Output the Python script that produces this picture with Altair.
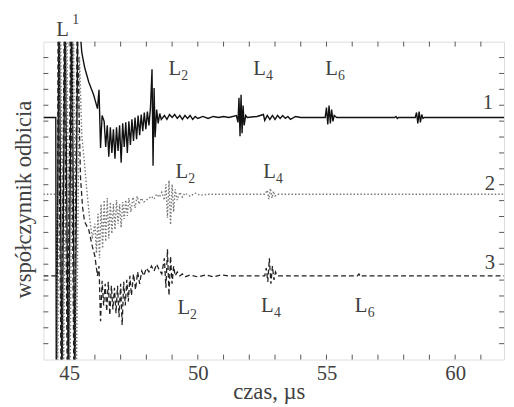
import altair as alt
import pandas as pd

# ---- trace 1 (solid) : time in µs, deviation from its baseline ----
t1 = [44.00, 44.48, 44.50, 44.61, 44.72, 44.84, 44.97, 45.10, 45.22, 45.34, 45.42, 45.49, 45.60, 45.76,
      45.95, 46.10, 46.16, 46.22, 46.28, 46.36, 46.42,
      46.48, 46.54, 46.60, 46.66, 46.72, 46.78, 46.84, 46.90, 46.96, 47.02, 47.08, 47.14, 47.20, 47.26,
      47.32, 47.38, 47.44, 47.50, 47.56, 47.62, 47.68, 47.74, 47.80, 47.86, 47.92, 47.98, 48.04, 48.10,
      48.16, 48.22, 48.26, 48.30, 48.34, 48.40, 48.46, 48.52, 48.58, 48.70, 48.80, 48.90, 49.00, 49.10,
      49.20, 49.30, 49.40, 49.50, 49.60, 49.70, 49.80, 49.90, 50.00, 50.20, 50.40, 50.60, 50.80, 51.00,
      51.20, 51.50, 51.56, 51.60, 51.64, 51.68, 51.72, 51.76, 51.80, 51.86, 51.92, 52.30, 52.55, 52.60,
      52.70, 52.80, 52.90, 53.00, 53.10, 53.20, 53.30, 53.40, 53.50, 53.60, 53.80, 54.00, 54.95, 55.00,
      55.05, 55.10, 55.15, 55.20, 55.25, 55.30, 55.40, 57.65, 57.70, 57.75, 57.80, 58.45, 58.50, 58.55,
      58.60, 58.65, 58.70, 58.75, 58.80, 61.90]
v1 = [0.00, 0.00, -2.8, 1.2, -2.8, 1.2, -2.8, 1.2, -2.8, 1.2, 0.90, 0.66, 0.51, 0.36,
      0.23, 0.09, 0.28, -0.31, 0.02, -0.04, -0.30,
      -0.08, -0.40, -0.10, -0.36, -0.12, -0.42, -0.10, -0.34, -0.08, -0.46, -0.06, -0.30, -0.05, -0.36,
      -0.04, -0.28, -0.02, -0.24, 0.00, -0.22, 0.02, -0.18, 0.03, -0.14, 0.05, -0.12, 0.06, -0.08,
      0.10, 0.49, -0.49, 0.30, -0.20, 0.08, -0.06, 0.04, -0.02, 0.02, -0.02, 0.03, 0.00, 0.03,
      -0.01, 0.02, -0.02, 0.02, -0.01, 0.02, -0.02, 0.01, -0.01, 0.01, -0.01, 0.01, 0.00, 0.01,
      0.00, 0.02, -0.05, 0.20, -0.19, 0.23, -0.16, 0.12, -0.08, 0.02, 0.00, 0.01, 0.03, -0.03,
      0.02, -0.02, 0.02, -0.02, 0.02, -0.01, 0.02, -0.01, 0.01, -0.02, 0.01, 0.00, 0.00, 0.10,
      -0.07, 0.12, -0.06, 0.08, -0.04, 0.02, 0.00, 0.00, 0.01, -0.01, 0.00, 0.00, 0.05, -0.06,
      0.06, -0.05, 0.03, -0.01, 0.00, 0.00]

# ---- trace 2 (dotted) ----
t2 = [44.00, 44.52, 44.55, 44.66, 44.78, 44.90, 45.03, 45.16, 45.28, 45.40,
      45.49, 45.60, 45.70, 45.80, 45.90, 46.00, 46.06, 46.12, 46.18, 46.24,
      46.30, 46.36, 46.42, 46.48, 46.54, 46.60, 46.66, 46.72, 46.78, 46.84, 46.90, 46.96, 47.02, 47.08,
      47.14, 47.20, 47.26, 47.32, 47.40, 47.48, 47.56, 47.64, 47.72, 47.80, 47.90, 48.00, 48.10, 48.20,
      48.30, 48.40, 48.50, 48.60, 48.70, 48.76, 48.82, 48.88, 48.94, 49.00, 49.06, 49.12, 49.20, 49.30,
      49.40, 49.50, 49.70, 49.90, 50.10, 50.40, 52.60, 52.70, 52.76, 52.82, 52.88, 52.94, 53.00, 53.10,
      61.90]
v2 = [0.00, 0.00, -2.0, 2.0, -2.0, 2.0, -2.0, 2.0, -2.0, 1.4,
      0.60, 0.30, 0.00, -0.25, -0.45, -0.30, -0.60, -0.20, -0.65, -0.10,
      -0.55, -0.06, -0.48, -0.04, -0.45, -0.08, -0.40, -0.10, -0.36, -0.06, -0.30, -0.10, -0.34, -0.08,
      -0.25, -0.06, -0.22, -0.04, -0.18, -0.03, -0.14, -0.02, -0.10, -0.04, -0.08, -0.06, -0.04, -0.02,
      -0.05, 0.00, -0.03, 0.02, -0.06, 0.10, -0.24, 0.14, -0.31, 0.10, -0.18, 0.05, -0.06, 0.02,
      -0.03, 0.01, -0.02, 0.01, -0.01, 0.00, 0.00, 0.04, -0.05, 0.06, -0.04, 0.03, -0.02, 0.00,
      0.00]

# ---- trace 3 (dashed) ----
t3 = [44.00, 44.54, 44.57, 44.69, 44.81, 44.93, 45.06, 45.19, 45.31, 45.44,
      45.52, 45.60, 45.76, 45.90, 46.00, 46.10, 46.16, 46.22, 46.28,
      46.34, 46.40, 46.46, 46.52, 46.58, 46.64, 46.70, 46.76, 46.82, 46.88, 46.94, 47.00, 47.06, 47.12,
      47.18, 47.24, 47.30, 47.36, 47.42, 47.50, 47.58, 47.66, 47.74, 47.82, 47.90, 48.00, 48.10, 48.20,
      48.30, 48.40, 48.50, 48.60, 48.70, 48.76, 48.82, 48.88, 48.94, 49.00, 49.06, 49.12, 49.20, 49.30,
      49.40, 49.50, 49.70, 50.00, 50.30, 50.60, 50.90, 51.20, 52.60, 52.66, 52.72, 52.78, 52.84, 52.90,
      52.96, 53.02, 53.10, 56.20, 56.26, 56.32, 56.40, 61.90]
v3 = [0.00, 0.00, 2.6, -1.2, 2.6, -1.2, 2.6, -1.2, 2.6, 1.0,
      0.70, 0.55, 0.47, 0.30, 0.20, 0.00, 0.10, -0.46, -0.05,
      -0.30, -0.08, -0.36, -0.06, -0.40, -0.10, -0.34, -0.12, -0.38, -0.10, -0.42, -0.08, -0.50, -0.06,
      -0.30, -0.04, -0.26, 0.00, -0.20, 0.02, -0.14, 0.04, -0.08, 0.05, 0.00, 0.08, 0.04, 0.10,
      0.05, 0.12, 0.06, 0.02, 0.18, -0.12, 0.27, -0.20, 0.20, -0.08, 0.10, 0.00, 0.04, 0.00,
      0.02, -0.01, 0.01, -0.01, 0.01, -0.01, 0.01, 0.00, 0.00, 0.08, -0.06, 0.18, -0.08, 0.10,
      -0.04, 0.04, 0.00, 0.00, 0.02, -0.01, 0.00, 0.00]

baselines = [2.46, 1.68, 0.85]

# ---- annotations ----
lab_t = [44.50, 48.86, 52.15, 54.95, 49.13, 52.54, 49.21, 52.46, 56.10, 61.07, 61.15, 61.15]
lab_y = [3.29, 2.89, 2.89, 2.89, 1.84, 1.84, 0.46, 0.48, 0.48, 2.55, 1.72, 0.92]
lab_text = ["L", "L", "L", "L", "L", "L", "L", "L", "L", "1", "2", "3"]
idx_t = [45.12, 49.36, 52.65, 55.45, 49.63, 53.04, 49.70, 52.96, 56.60]
idx_y = [3.41, 2.84, 2.84, 2.84, 1.79, 1.79, 0.41, 0.43, 0.43]
idx_text = ["1", "2", "4", "6", "2", "4", "2", "4", "6"]

x_labels = [45, 50, 55, 60]
x_minor = list(range(45, 62))
y_minor = [round(i * 0.1615, 4) for i in range(1, 20)]

FONT = "Times New Roman, Liberation Serif, DejaVu Serif, serif"
TXT = "#404040"

def frame(ts, vs, base):
    return pd.DataFrame({"t": ts, "y": [base + v for v in vs]})

xscale = alt.Scale(domain=[44, 61.9], nice=False, zero=False)
yscale = alt.Scale(domain=[0, 3.23], nice=False, zero=False)

xaxis = alt.Axis(values=x_labels, ticks=False, domain=False, grid=False,
                 labelFont=FONT, labelFontSize=21, labelColor=TXT, labelPadding=20,
                 labelBaseline="alphabetic", title="czas, µs", titleFont=FONT,
                 titleFontSize=23, titleFontWeight="normal", titleColor=TXT,
                 titleX=229, titleY=40, titleAlign="center", titleBaseline="alphabetic")
yaxis = alt.Axis(ticks=False, labels=False, domain=False, grid=False,
                 title="współczynnik odbicia", titleFont=FONT, titleFontSize=23,
                 titleFontWeight="normal", titleColor=TXT, titleAngle=270,
                 titleX=-13, titleY=160, titleAlign="center", titleBaseline="alphabetic")

X = alt.X("t:Q", scale=xscale, axis=xaxis)
Y = alt.Y("y:Q", scale=yscale, axis=yaxis)

l1 = alt.Chart(frame(t1, v1, baselines[0])).mark_line(
    clip=True, color="#111", strokeWidth=1.4).encode(x=X, y=Y)
l2 = alt.Chart(frame(t2, v2, baselines[1])).mark_line(
    clip=True, color="#777", strokeWidth=1.4, strokeDash=[1.5, 2]).encode(x=X, y=Y)
l3 = alt.Chart(frame(t3, v3, baselines[2])).mark_line(
    clip=True, color="#222", strokeWidth=1.3, strokeDash=[5, 3]).encode(x=X, y=Y)

xt = pd.DataFrame({"t": x_minor})
yt = pd.DataFrame({"y": y_minor})
tick_style = dict(color="#555", strokeWidth=1)
xb = alt.Chart(xt).mark_rule(**tick_style).encode(x=X, y=alt.value(323), y2=alt.value(318))
xtop = alt.Chart(xt).mark_rule(**tick_style).encode(x=X, y=alt.value(0), y2=alt.value(5))
yl = alt.Chart(yt).mark_rule(**tick_style).encode(y=Y, x=alt.value(0), x2=alt.value(5))
yr = alt.Chart(yt).mark_rule(**tick_style).encode(y=Y, x=alt.value(468), x2=alt.value(463))

labs = alt.Chart(pd.DataFrame({"t": lab_t, "y": lab_y, "s": lab_text})).mark_text(
    font=FONT, fontSize=21, color=TXT, align="left", baseline="alphabetic").encode(
    x=X, y=Y, text="s:N")
idx = alt.Chart(pd.DataFrame({"t": idx_t, "y": idx_y, "s": idx_text})).mark_text(
    font=FONT, fontSize=14, color=TXT, align="left", baseline="alphabetic").encode(
    x=X, y=Y, text="s:N")

chart = alt.layer(l1, l2, l3, xb, xtop, yl, yr, labs, idx).properties(
    width=468, height=323, autosize="none",
    padding={"left": 36, "top": 31, "right": 2, "bottom": 45},
).configure_view(stroke="#444", strokeWidth=1.4).configure(background="white")

chart.save("out.html", embed_options={"renderer": "svg", "actions": False})
